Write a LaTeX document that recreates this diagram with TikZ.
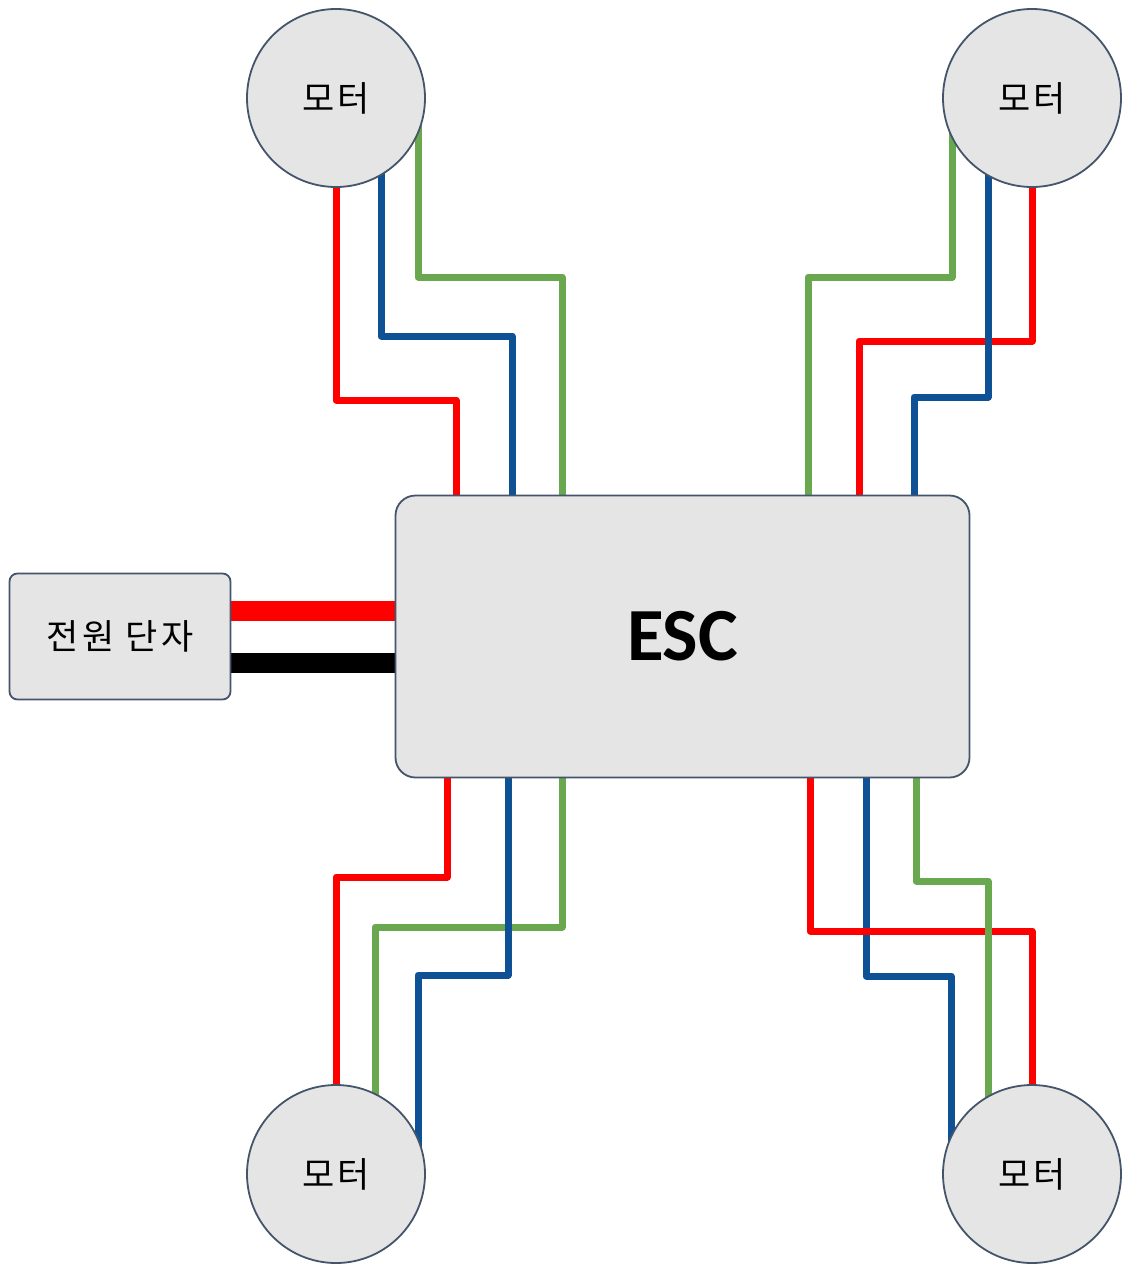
\documentclass[tikz,border=0pt]{standalone}
\usepackage{fontspec}
\newfontfamily\krfont[LetterSpace=10]{Noto Sans CJK KR}
\newfontfamily\carl{Carlito}
\usetikzlibrary{backgrounds}
\definecolor{wred}{HTML}{FF0000}
\definecolor{wblue}{HTML}{0E5194}
\definecolor{wgreen}{HTML}{6AA84F}
\definecolor{edgec}{HTML}{44546A}
\definecolor{boxfill}{HTML}{E5E5E5}
\begin{document}
\begin{tikzpicture}[x=1pt,y=-1pt,
  motor/.style={circle, draw=edgec, line width=1.8pt, fill=boxfill, minimum size=178pt, inner sep=0pt, font=\krfont\fontsize{35}{40}\selectfont},
  escbox/.style={rectangle, rounded corners=20pt, draw=edgec, line width=1.8pt, fill=boxfill, minimum width=574pt, minimum height=282pt, inner sep=0pt, font=\carl\bfseries\fontsize{75}{80}\selectfont},
  pwrbox/.style={rectangle, rounded corners=8pt, draw=edgec, line width=1.8pt, fill=boxfill, minimum width=221pt, minimum height=126pt, inner sep=0pt, font=\krfont\fontsize{35}{40}\selectfont},
  wire/.style={line width=7pt, line join=round, line cap=butt},
  bar/.style={line width=20pt, line cap=butt}]
\useasboundingbox (0,0) rectangle (1122,1264);
\node[motor] (m1) at (336,98) {모터};
\node[motor] (m2) at (1032,98) {모터};
\node[motor] (m3) at (336,1174) {모터};
\node[motor] (m4) at (1032,1174) {모터};
\node[escbox] (esc) at (682.5,636.5) {ESC};
\node[pwrbox] (pw) at (120,636.5) {전원 단자};
\begin{pgfonlayer}{background}
  % top-left
  \draw[wire,wred] (m1.center) |- (456,400) -- (456,0 |- esc.north);
  \draw[wire,wblue] ([xshift=45pt]m1.center) |- (512,336) -- (512,0 |- esc.north);
  \draw[wire,wgreen] ([xshift=82pt]m1.center) |- (562,277) -- (562,0 |- esc.north);
  % top-right
  \draw[wire,wgreen] ([xshift=-80pt]m2.center) |- (808,277) -- (808,0 |- esc.north);
  \draw[wire,wred] (m2.center) |- (859,341) -- (859,0 |- esc.north);
  \draw[wire,wblue] ([xshift=-44pt]m2.center) |- (914,397) -- (914,0 |- esc.north);
  % bottom-left
  \draw[wire,wred] (447,0 |- esc.south) |- (336,877) -- (m3.center);
  \draw[wire,wgreen] (562,0 |- esc.south) |- (375,927) -- ([xshift=39pt]m3.center);
  \draw[wire,wblue] (508,0 |- esc.south) |- (418,975) -- ([xshift=82pt]m3.center);
  % bottom-right
  \draw[wire,wblue] (866,0 |- esc.south) |- (951,976) -- ([xshift=-81pt]m4.center);
  \draw[wire,wred] (810,0 |- esc.south) |- (1032,931) -- (m4.center);
  \draw[wire,wgreen] (916,0 |- esc.south) |- (988,881) -- ([xshift=-44pt]m4.center);
  % power
  \draw[bar,wred] (pw.east |- 0,611) -- (esc.west |- 0,611);
  \draw[bar,black] (pw.east |- 0,663) -- (esc.west |- 0,663);
\end{pgfonlayer}
\end{tikzpicture}
\end{document}
